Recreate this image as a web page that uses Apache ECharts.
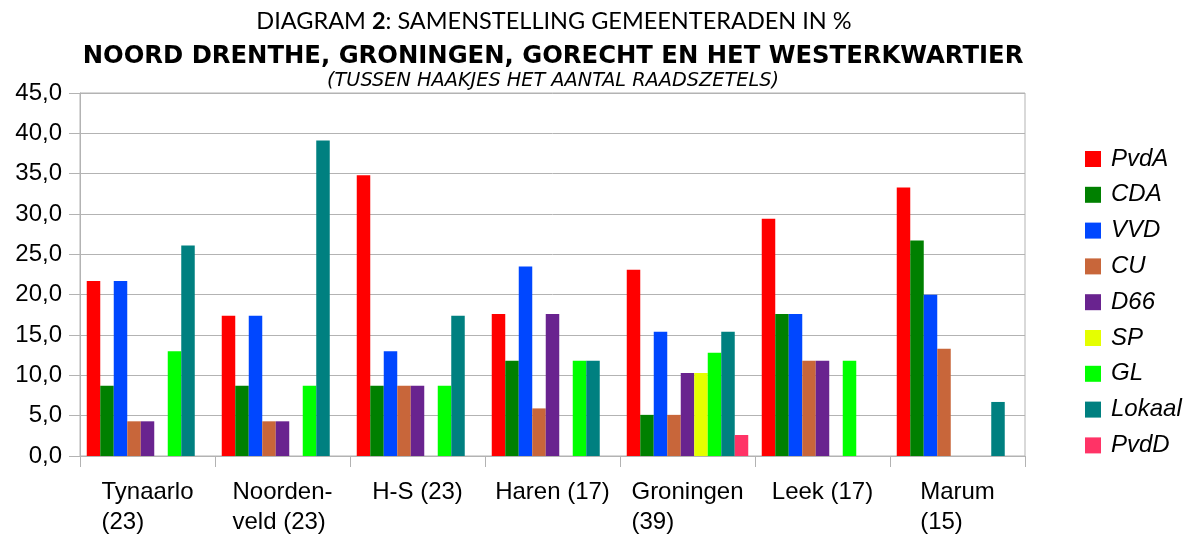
<!DOCTYPE html>
<html>
<head>
<meta charset="utf-8">
<script src="https://cdn.jsdelivr.net/npm/echarts@6/dist/echarts.min.js"></script>
<style>html,body{margin:0;padding:0;background:#fff}#c{width:1190px;height:536px}</style>
</head>
<body>
<div id="c"></div>
<script>
var categories = ['Tynaarlo\n(23)', 'Noorden-\nveld (23)', 'H-S (23)', 'Haren (17)', 'Groningen\n(39)', 'Leek (17)', 'Marum\n(15)'];
var seriesNames = ['PvdA', 'CDA', 'VVD', 'CU', 'D66', 'SP', 'GL', 'Lokaal', 'PvdD'];
var PvdA   = [21.7, 17.4, 34.8, 17.6, 23.1, 29.4, 33.3];
var CDA    = [8.7, 8.7, 8.7, 11.8, 5.1, 17.6, 26.7];
var VVD    = [21.7, 17.4, 13.0, 23.5, 15.4, 17.6, 20.0];
var CU     = [4.3, 4.3, 8.7, 5.9, 5.1, 11.8, 13.3];
var D66    = [4.3, 4.3, 8.7, 17.6, 10.3, 11.8, 0];
var SP     = [0, 0, 0, 0, 10.3, 0, 0];
var GL     = [13.0, 8.7, 8.7, 11.8, 12.8, 11.8, 0];
var Lokaal = [26.1, 39.1, 17.4, 11.8, 15.4, 0, 6.7];
var PvdD   = [0, 0, 0, 0, 2.6, 0, 0];
var yTicks = [0, 5, 10, 15, 20, 25, 30, 35, 40, 45];
var titleMain = 'DIAGRAM ';
var titleNum = '2';
var titleRest = ': SAMENSTELLING GEMEENTERADEN IN %';
var titleSecond = 'NOORD DRENTHE, GRONINGEN, GORECHT EN HET WESTERKWARTIER';
var titleSub = '(TUSSEN HAAKJES HET AANTAL RAADSZETELS)';

var values = [PvdA, CDA, VVD, CU, D66, SP, GL, Lokaal, PvdD];
var colors = ['#ff0000', '#008000', '#0047ff', '#c8663a', '#69238f', '#e5ff00', '#00ff00', '#008080', '#ff3366'];

var chart = echarts.init(document.getElementById('c'), null, {renderer: 'canvas'});
var series = seriesNames.map(function (n, i) {
  return {
    name: n, type: 'bar', data: values[i],
    barGap: '0%', barCategoryGap: '10%',
    itemStyle: {color: colors[i]},
    emphasis: {disabled: true}
  };
});

chart.setOption({
  animation: false,
  backgroundColor: '#fff',
  textStyle: {fontFamily: 'Liberation Sans'},
  graphic: [
    {
      type: 'text', x: 554, y: 21,
      style: {
        text: '{n|' + titleMain + '}{b|' + titleNum + '}{n|' + titleRest + '}',
        align: 'center', verticalAlign: 'middle',
        rich: {
          n: {fontFamily: 'Lato', fontSize: 23.5, fontWeight: 'normal', fill: '#000'},
          b: {fontFamily: 'Lato', fontSize: 23.5, fontWeight: 'bold', fill: '#000'}
        }
      }
    },
    {
      type: 'text', x: 553, y: 57,
      style: {text: titleSecond, align: 'center', verticalAlign: 'middle',
        fontFamily: 'DejaVu Sans', fontWeight: 'bold', fontSize: 24.3, fill: '#000'}
    },
    {
      type: 'text', x: 553, y: 81,
      style: {text: titleSub, align: 'center', verticalAlign: 'middle',
        fontFamily: 'DejaVu Sans', fontStyle: 'italic', fontSize: 19.3, fill: '#000'}
    }
  ],
  legend: {
    orient: 'vertical', left: 1085, top: 147, padding: 0,
    itemWidth: 16, itemHeight: 16, itemGap: 11.8,
    icon: 'rect',
    textStyle: {fontFamily: 'Liberation Sans', fontStyle: 'italic', fontSize: 24, lineHeight: 24, color: '#000', padding: [0, 0, 0, 5]},
    data: seriesNames
  },
  grid: {left: 80, right: 165, top: 93, bottom: 80, show: true, borderColor: '#b3b3b3', borderWidth: 1, containLabel: false},
  xAxis: {
    type: 'category', data: categories,
    axisLine: {lineStyle: {color: '#b3b3b3', width: 1}},
    axisTick: {show: true, length: 11, lineStyle: {color: '#b3b3b3'}},
    axisLabel: {
      interval: 0, margin: 21, align: 'center',
      formatter: function (v) { return v.split('\n').map(function (s) { return '{a|' + s + '}'; }).join('\n'); },
      rich: {a: {fontFamily: 'Liberation Sans', fontSize: 24, color: '#000', align: 'left', lineHeight: 30}}
    }
  },
  yAxis: {
    type: 'value', min: 0, max: 45, interval: 5,
    axisLine: {show: true, lineStyle: {color: '#b3b3b3', width: 1}},
    axisTick: {show: true, length: 11, lineStyle: {color: '#b3b3b3'}},
    splitLine: {lineStyle: {color: '#b3b3b3', width: 1}},
    axisLabel: {
      margin: 18, fontFamily: 'Liberation Sans', fontSize: 24, color: '#000',
      formatter: function (v) { return v.toFixed(1).replace('.', ','); }
    }
  },
  series: series
});
</script>
</body>
</html>
